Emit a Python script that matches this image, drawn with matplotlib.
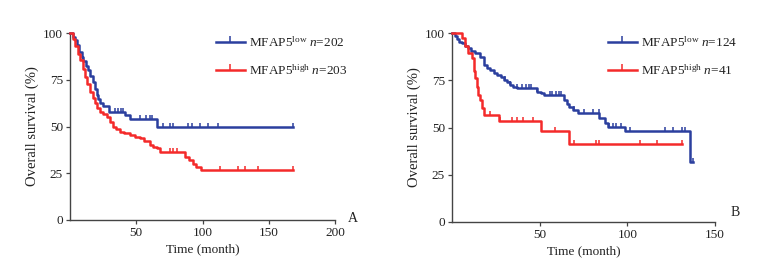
import numpy as np
import matplotlib
matplotlib.use("Agg")
import matplotlib.pyplot as plt
from matplotlib.lines import Line2D

plt.rcParams['font.family'] = ['Liberation Serif', 'DejaVu Serif']
plt.rcParams['mathtext.fontset'] = 'custom'
plt.rcParams['mathtext.rm'] = 'Liberation Serif'
plt.rcParams['mathtext.it'] = 'Liberation Serif:italic'

BLUE = '#2b3f9e'
RED = '#f42a2a'

# ---------------- Panel A data ----------------
a_low_t = [0, 2, 4, 5, 7, 8.8, 10, 12, 13.8, 15, 17.6, 19, 20, 21.5, 22.6, 25, 29.5, 41.5, 45, 65.5]
a_low_s = [100, 98, 96, 93.6, 90, 87, 85, 82.5, 80, 77, 74, 70, 67, 64.5, 62.4, 61, 58, 56, 54, 50]
a_low_end = 168
a_low_cens = [34, 36.5, 38.5, 40, 53, 57, 60, 62, 70, 75.5, 78, 89, 92, 98, 104, 112, 168]

a_high_t = [0, 2, 3.8, 6, 7.5, 9.5, 11.3, 13, 15, 17, 18.9, 20.5, 22.6, 25, 27.7, 30, 32.7, 35,
            37.7, 41, 45.3, 49, 52.8, 56, 60.4, 63, 65.4, 67.9, 87, 90, 92.5, 95, 98.5]
a_high_s = [100, 97, 93, 89, 85.6, 81, 76.6, 72.5, 68.6, 65.5, 62.4, 60, 58, 56.5, 55.3, 52.5, 50, 48.5,
            47.2, 46.5, 45.5, 44.5, 43.7, 42, 40.1, 39, 38.3, 36.2, 33.9, 32, 30, 28.5, 27]
a_high_end = 168
a_high_cens = [75.5, 78, 81, 113, 127, 132, 142, 168]

# ---------------- Panel B data ----------------
b_low_t = [0, 1.5, 2.7, 4, 5.6, 7.5, 9.4, 11, 13.2, 16, 18, 20, 21.8, 24, 25.7, 28, 29.5, 31.5,
           33.3, 35, 37.2, 48.7, 50.5, 52.5, 64, 65.5, 66.9, 69, 71.7, 84, 87, 88.9, 98.5, 135.8]
b_low_s = [100, 98.5, 97, 95.5, 94.5, 93, 91.9, 90.5, 89.2, 87.5, 83, 81.5, 80.4, 79, 77.8, 76.5, 75.1, 74,
           72.5, 71.5, 70.7, 69, 68, 67.2, 64.6, 62.5, 60.7, 59, 57.5, 54.9, 52.2, 50.4, 48.1, 32]
b_low_end = 137.5
b_low_cens = [30.5, 33.3, 37.2, 40, 42, 43.7, 44.8, 48.7, 55.7, 57.3, 59.2, 60.9, 62, 69.5, 75.3,
              80.3, 83.9, 89.7, 91.8, 93.7, 96.6, 101.7, 121.3, 126.3, 131, 132.8, 137.5]

b_high_t = [0, 5.6, 7.5, 9.4, 11.3, 12.3, 13.2, 14.2, 15.1, 16, 17, 18, 26.6, 50.6, 66.5]
b_high_s = [100, 97.5, 93, 89.4, 86.8, 80, 76.2, 71.6, 67.4, 64.6, 60.3, 56.5, 53.5, 48.3, 41.3]
b_high_end = 131
b_high_cens = [21.8, 27.6, 34.3, 37.2, 40.6, 46.4, 58.8, 69.7, 82.2, 84.1, 107.1, 116.7, 131]


def km(ax, t, s, end, cens, color, label):
    tt = list(t) + [end]
    ss = list(s) + [s[-1]]
    ax.plot(tt, ss, drawstyle='steps-post', color=color, lw=1.8, clip_on=False, zorder=3)
    ct = np.array(cens)
    idx = np.searchsorted(np.array(t), ct, side='right') - 1
    cs = np.array(s)[idx]
    ax.plot(ct, cs, linestyle='none', marker=2, markersize=3, markeredgewidth=1.1,
            color=color, clip_on=False, zorder=3)
    return Line2D([], [], color=color, lw=1.8, marker=2, markersize=4, markeredgewidth=1.1,
                  label=label)


def style(ax, xmax, xticks):
    for sp in ['top', 'right']:
        ax.spines[sp].set_visible(False)
    for sp in ['left', 'bottom']:
        ax.spines[sp].set_color('#444444')
        ax.spines[sp].set_linewidth(1.0)
    ax.set_xlim(0, xmax)
    ax.set_ylim(0, 100)
    ax.set_xticks(xticks)
    ax.set_yticks([0, 25, 50, 75, 100])
    ax.tick_params(direction='out', length=3, width=0.9, color='#444444',
                   labelsize=9.5, pad=2, labelcolor='#222222')
    ax.set_xlabel('Time (month)', fontsize=9.5, color='#222222', labelpad=3)
    ax.set_ylabel('Overall survival (%)', fontsize=10.5, color='#222222', labelpad=3)


fig = plt.figure(figsize=(7.71, 2.63), dpi=100)
axA = fig.add_axes([70 / 771, 1 - 220 / 263, (335 - 70) / 771, (220 - 33) / 263])
axB = fig.add_axes([452 / 771, 1 - 222 / 263, (715 - 452) / 771, (222 - 33) / 263])

h1 = km(axA, a_low_t, a_low_s, a_low_end, a_low_cens, BLUE, r'MFAP5$^{\mathrm{low}}$ $n$=202')
h2 = km(axA, a_high_t, a_high_s, a_high_end, a_high_cens, RED, r'MFAP5$^{\mathrm{high}}$ $n$=203')
style(axA, 200, [50, 100, 150, 200])

h3 = km(axB, b_low_t, b_low_s, b_low_end, b_low_cens, BLUE, r'MFAP5$^{\mathrm{low}}$ $n$=124')
h4 = km(axB, b_high_t, b_high_s, b_high_end, b_high_cens, RED, r'MFAP5$^{\mathrm{high}}$ $n$=41')
style(axB, 150, [50, 100, 150])

for ax, hs, x0 in [(axA, [h1, h2], 209 / 771), (axB, [h3, h4], 601 / 771)]:
    ax.legend(handles=hs, loc='upper left', bbox_to_anchor=(x0, 1 - 29 / 263),
              bbox_transform=fig.transFigure, frameon=False, fontsize=9.5,
              handlelength=2.2, handletextpad=0.3, labelspacing=1.0, borderpad=0,
              labelcolor='#222222')

fig.text(353 / 771, 1 - 218 / 263, 'A', fontsize=10, color='#222222', va='center', ha='center')
fig.text(735 / 771, 1 - 212 / 263, 'B', fontsize=10, color='#222222', va='center', ha='center')

fig.savefig('out.png', dpi=100)
